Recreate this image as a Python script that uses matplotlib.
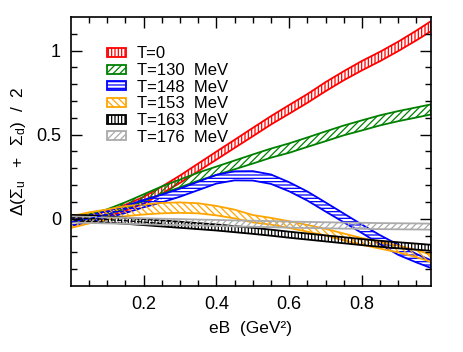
import matplotlib
matplotlib.use("Agg")
import matplotlib.pyplot as plt
from matplotlib.patches import Patch
import numpy as np

plt.rcParams['font.family'] = 'Liberation Sans'
plt.rcParams['mathtext.fontset'] = 'custom'
plt.rcParams['mathtext.rm'] = 'Liberation Sans'
plt.rcParams['mathtext.it'] = 'Liberation Sans'
plt.rcParams['mathtext.default'] = 'regular'
plt.rcParams['hatch.linewidth'] = 0.9

# eB values (GeV^2)
eB = [0, .05, .1, .15, .2, .25, .3, .35, .4, .45, .5,
      .55, .6, .65, .7, .75, .8, .85, .9, .95, .99]

# central values
t0 = [0.0, 0.01, 0.03, 0.065, 0.11, 0.17, 0.235, 0.305, 0.375, 0.445, 0.515,
      0.585, 0.65, 0.715, 0.785, 0.85, 0.91, 0.965, 1.025, 1.09, 1.145]
t130 = [0.0, 0.012, 0.04, 0.08, 0.125, 0.17, 0.21, 0.25, 0.285, 0.32, 0.355,
        0.39, 0.42, 0.455, 0.49, 0.525, 0.555, 0.585, 0.61, 0.632, 0.65]
t148 = [-0.02, 0.0, 0.025, 0.055, 0.09, 0.12, 0.155, 0.195, 0.235, 0.255, 0.255,
        0.235, 0.19, 0.135, 0.07, 0.005, -0.06, -0.125, -0.185, -0.235, -0.27]
t153 = [-0.02, 0.005, 0.025, 0.045, 0.055, 0.063, 0.066, 0.062, 0.048, 0.028, 0.0,
        -0.015, -0.035, -0.057, -0.08, -0.108, -0.135, -0.158, -0.18, -0.208, -0.235]
t163 = [0.005, 0.002, -0.005, -0.012, -0.02, -0.028, -0.036, -0.044, -0.052, -0.062, -0.072,
        -0.083, -0.095, -0.106, -0.117, -0.128, -0.139, -0.149, -0.158, -0.166, -0.173]
t176 = [-0.005, -0.007, -0.01, -0.012, -0.015, -0.018, -0.02, -0.023, -0.025, -0.028, -0.03,
        -0.032, -0.035, -0.037, -0.039, -0.041, -0.042, -0.044, -0.045, -0.046, -0.047]

# half widths of the bands
w0 = [0.012, 0.014, 0.016, 0.018, 0.02, 0.021, 0.022, 0.023, 0.024, 0.024, 0.025,
      0.025, 0.026, 0.026, 0.027, 0.027, 0.028, 0.028, 0.028, 0.029, 0.03]
w130 = [0.012, 0.014, 0.016, 0.018, 0.02, 0.022, 0.023, 0.024, 0.025, 0.026, 0.027,
        0.027, 0.028, 0.028, 0.029, 0.029, 0.03, 0.03, 0.03, 0.03, 0.03]
w148 = [0.022, 0.02, 0.02, 0.021, 0.022, 0.023, 0.024, 0.025, 0.026, 0.027, 0.028,
        0.028, 0.027, 0.027, 0.027, 0.026, 0.025, 0.027, 0.03, 0.025, 0.023]
w153 = [0.035, 0.033, 0.03, 0.03, 0.03, 0.031, 0.031, 0.03, 0.028, 0.026, 0.022,
        0.02, 0.02, 0.02, 0.02, 0.02, 0.02, 0.02, 0.02, 0.021, 0.022]
w163 = [0.018] * len(eB)
w176 = [0.018] * len(eB)

labels = ['T=0', 'T=130  MeV', 'T=148  MeV', 'T=153  MeV', 'T=163  MeV', 'T=176  MeV']
colors = ['red', 'green', 'blue', 'orange', 'black', '#aaaaaa']
hatches = ['|||||', '/////', '-----', '\\\\\\\\\\', '|||||', '/////']
centers = [t0, t130, t148, t153, t163, t176]
widths = [w0, w130, w148, w153, w163, w176]

fig = plt.figure(figsize=(4.63, 3.52), dpi=100)
ax = fig.add_axes([0.153, 0.1875, 0.778, 0.7645])

x = np.array(eB)
handles = []
for c, w, col, h, lab in zip(centers, widths, colors, hatches, labels):
    c = np.array(c)
    w = np.array(w)
    ax.fill_between(x, c - w, c + w, facecolor='none', edgecolor=col,
                    hatch=h, linewidth=1.3)
    handles.append(Patch(facecolor='none', edgecolor=col, hatch=h,
                         linewidth=1.3, label=lab))

# dashed central lines at small eB
for c, col in zip([t148, t163], ['blue', 'black']):
    ax.plot(x[:6], c[:6], color=col, ls='--', lw=0.9)

ax.set_xlim(0, 0.99)
ax.set_ylim(-0.4, 1.2)
ax.set_xticks([0.2, 0.4, 0.6, 0.8])
ax.set_xticks(np.arange(0.05, 0.99, 0.05), minor=True)
ax.set_yticks([0, 0.5, 1])
ax.set_yticklabels(['0', '0.5', '1'])
ax.set_yticks(np.arange(-0.3, 1.2, 0.1), minor=True)
ax.tick_params(which='both', direction='in', top=True, right=True,
               labelsize=13, width=1.0)
ax.tick_params(which='major', length=8, pad=7)
ax.tick_params(which='minor', length=4)
for s in ax.spines.values():
    s.set_linewidth(1.2)

ax.set_xlabel('eB  (GeV²)', fontsize=12.5, labelpad=6)
ax.set_ylabel(r'$\Delta(\Sigma_u\ \ +\ \ \Sigma_d)\ \ /\ \ 2$', fontsize=12.5, labelpad=6)

ax.legend(handles=handles, loc='upper left', bbox_to_anchor=(0.1, 0.89),
          frameon=False, fontsize=12, borderpad=0, borderaxespad=0,
          handlelength=1.15, handleheight=0.45, handletextpad=0.65,
          labelspacing=0.1)

fig.savefig('out.png', dpi=100)
